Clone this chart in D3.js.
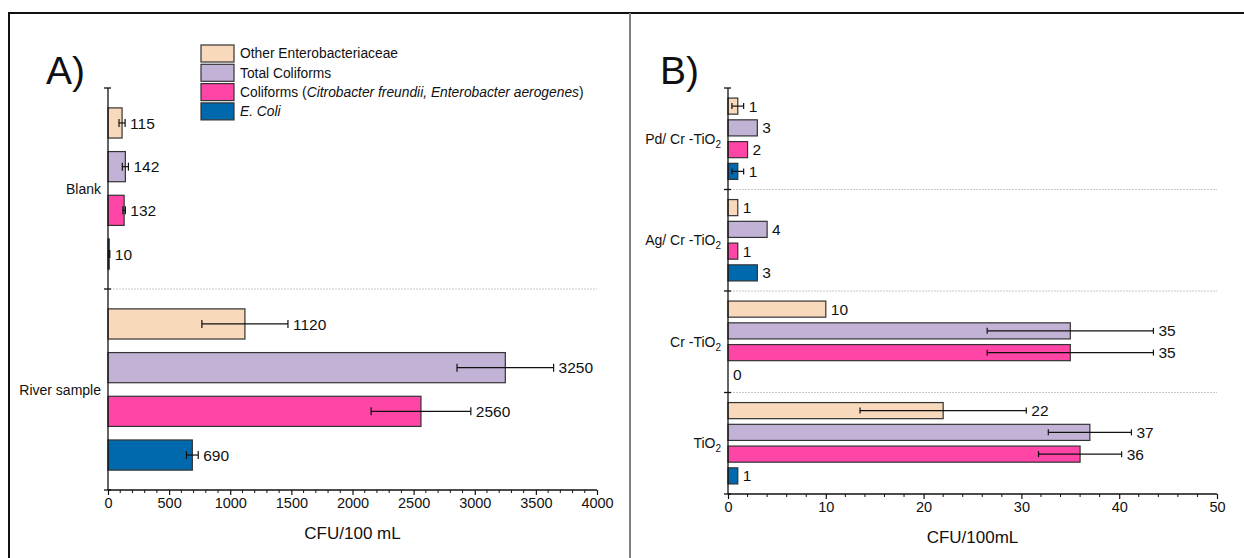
<!DOCTYPE html>
<html lang="en">
<head>
<meta charset="UTF-8">
<title>CFU bar charts</title>
<style>
    body { margin: 0; background: #fff; font-family: "Liberation Sans", Arial, sans-serif; }
    svg text { font-family: "Liberation Sans", Arial, sans-serif; fill: #111; }
    .axis path, .axis line { stroke: #111; }
</style>
</head>
<body>
<svg id="chart" width="1244" height="558"></svg>
<script src="https://d3js.org/d3.v7.min.js"></script>
<script>
// series (top to bottom inside each group)
const seriesKeys = ["other", "total", "coliforms", "ecoli"];
const seriesColors = ["#f9d9bc", "#c2b3d6", "#ff45a6", "#0068ad"];

// panel A
const groupsA = ["Blank", "River sample"];
const blankValues = [115, 142, 132, 10];
const blankErrors = [25, 25, 10, 5];
const riverValues = [1120, 3250, 2560, 690];
const riverErrors = [352, 395, 408, 48];
const ticksA = [0, 500, 1000, 1500, 2000, 2500, 3000, 3500, 4000];

// panel B
const groupsB = ["Pd/ Cr -TiO", "Ag/ Cr -TiO", "Cr -TiO", "TiO"];
const pdValues = [1, 3, 2, 1];
const pdErrors = [0.6, 0, 0, 0.6];
const agValues = [1, 4, 1, 3];
const agErrors = [0, 0, 0, 0];
const crValues = [10, 35, 35, 0];
const crErrors = [0, 8.5, 8.5, 0];
const tioValues = [22, 37, 36, 1];
const tioErrors = [8.5, 4.25, 4.25, 0];
const ticksB = [0, 10, 20, 30, 40, 50];

const svg = d3.select('#chart');

// outer frame
svg.append('line').attr('x1', 8).attr('x2', 1244).attr('y1', 13).attr('y2', 13)
    .attr('stroke', '#111').attr('stroke-width', 2);
svg.append('line').attr('x1', 9).attr('x2', 9).attr('y1', 13).attr('y2', 558)
    .attr('stroke', '#111').attr('stroke-width', 2);
svg.append('line').attr('x1', 630).attr('x2', 630).attr('y1', 13).attr('y2', 558)
    .attr('stroke', '#808080').attr('stroke-width', 2);

function drawPanel(opt) {
    const g = svg.append('g');
    const x = d3.scaleLinear().domain(opt.domain).range([opt.left, opt.right]);
    const yGroup = d3.scaleBand().domain(opt.groups).range([opt.top, opt.bottom]);
    const yInner = d3.scaleBand().domain(seriesKeys).range([0, yGroup.bandwidth()])
        .paddingInner(opt.padInner).paddingOuter(opt.padOuter);

    // dotted separators between groups
    opt.groups.slice(1).forEach(gr => {
        g.append('line')
            .attr('x1', opt.left + 2).attr('x2', opt.right)
            .attr('y1', yGroup(gr)).attr('y2', yGroup(gr))
            .attr('stroke', '#c8c8c8').attr('stroke-dasharray', '2,1');
    });

    // bars
    opt.groups.forEach((gr, gi) => {
        const vals = opt.values[gi];
        const errs = opt.errors[gi];
        const gy = yGroup(gr);
        seriesKeys.forEach((k, i) => {
            const v = vals[i], e = errs[i];
            const by = gy + yInner(k);
            const bh = yInner.bandwidth();
            const cy = by + bh / 2;
            if (v > 0) {
                g.append('rect')
                    .attr('x', x(0)).attr('y', by)
                    .attr('width', x(v) - x(0)).attr('height', bh)
                    .attr('fill', seriesColors[i])
                    .attr('stroke', '#333').attr('stroke-width', 1.2);
            }
            if (e > 0) {
                g.append('line').attr('x1', x(v - e)).attr('x2', x(v + e))
                    .attr('y1', cy).attr('y2', cy).attr('stroke', '#111').attr('stroke-width', 1.2);
                [v - e, v + e].forEach(c => {
                    g.append('line').attr('x1', x(c)).attr('x2', x(c))
                        .attr('y1', cy - opt.cap).attr('y2', cy + opt.cap)
                        .attr('stroke', '#111').attr('stroke-width', 1.2);
                });
            }
            g.append('text')
                .attr('x', x(v + e) + 5)
                .attr('y', cy)
                .attr('dy', '0.36em')
                .attr('font-size', opt.valueSize)
                .text(v);
        });
    });

    // y axis with ticks at group boundaries
    g.append('line').attr('x1', opt.left).attr('x2', opt.left)
        .attr('y1', opt.top).attr('y2', opt.bottom).attr('stroke', '#111').attr('stroke-width', 1.3);
    const bounds = opt.groups.map(gr => yGroup(gr)).concat([opt.bottom]);
    bounds.forEach(b => {
        g.append('line').attr('x1', opt.left - 4).attr('x2', opt.left + 3)
            .attr('y1', b).attr('y2', b).attr('stroke', '#111').attr('stroke-width', 1.3);
    });

    // group labels
    opt.groups.forEach(gr => {
        const t = g.append('text')
            .attr('x', opt.left - 7)
            .attr('y', yGroup(gr) + yGroup.bandwidth() / 2)
            .attr('dy', '0.36em')
            .attr('text-anchor', 'end')
            .attr('font-size', 14)
            .text(gr);
        if (opt.subscript) {
            t.append('tspan').attr('font-size', 10).attr('dy', 4).text('2');
        }
    });

    // x axis
    const xAxis = d3.axisBottom(x).tickValues(opt.ticks).tickSize(5).tickPadding(3)
        .tickFormat(d3.format('d'));
    const ax = g.append('g').attr('class', 'axis')
        .attr('transform', `translate(0, ${opt.bottom})`)
        .call(xAxis);
    ax.select('.domain').attr('stroke-width', 1.3).attr('d', `M${opt.left},0H${opt.right}`);
    ax.selectAll('.tick line').attr('stroke-width', 1.2);
    ax.selectAll('.tick text').attr('font-size', 14.5).attr('fill', '#111');
    const minor = d3.range(opt.domain[0], opt.domain[1] + opt.minorStep / 2, opt.minorStep)
        .filter(d => !opt.ticks.includes(d));
    ax.selectAll('.minor').data(minor).enter().append('line')
        .attr('x1', d => x(d)).attr('x2', d => x(d))
        .attr('y1', 0).attr('y2', 3).attr('stroke', '#111');

    g.append('text')
        .attr('x', (opt.left + opt.right) / 2)
        .attr('y', opt.bottom + 49)
        .attr('text-anchor', 'middle')
        .attr('font-size', 17)
        .text(opt.title);

    g.append('text')
        .attr('x', opt.letterX).attr('y', 84)
        .attr('font-size', 39)
        .text(opt.letter);
}

drawPanel({
    groups: groupsA,
    values: [blankValues, riverValues],
    errors: [blankErrors, riverErrors],
    domain: [0, 4000], ticks: ticksA, minorStep: 100,
    left: 108, right: 597, top: 88, bottom: 490,
    padInner: 0.31, padOuter: 0.455, cap: 4, valueSize: 15.5,
    title: 'CFU/100 mL', letter: 'A)', letterX: 46, subscript: false
});

drawPanel({
    groups: groupsB,
    values: [pdValues, agValues, crValues, tioValues],
    errors: [pdErrors, agErrors, crErrors, tioErrors],
    domain: [0, 50], ticks: ticksB, minorStep: 2,
    left: 728, right: 1217, top: 88, bottom: 494,
    padInner: 0.26, padOuter: 0.463, cap: 3, valueSize: 15.5,
    title: 'CFU/100mL', letter: 'B)', letterX: 660, subscript: true
});

// legend for panel A
const legendLabels = [
    [{ t: 'Other Enterobacteriaceae' }],
    [{ t: 'Total Coliforms' }],
    [{ t: 'Coliforms (' }, { t: 'Citrobacter freundii, Enterobacter aerogenes', i: true }, { t: ')' }],
    [{ t: 'E. Coli', i: true }]
];
const legend = svg.append('g').attr('transform', 'translate(201, 45)');
legendLabels.forEach((parts, i) => {
    const row = legend.append('g').attr('transform', `translate(0, ${i * 19.3})`);
    row.append('rect').attr('width', 33).attr('height', 17)
        .attr('fill', seriesColors[i]).attr('stroke', '#333').attr('stroke-width', 1.2);
    const t = row.append('text').attr('x', 39).attr('y', 8.5).attr('dy', '0.36em').attr('font-size', 13.8);
    parts.forEach(p => {
        t.append('tspan').attr('font-style', p.i ? 'italic' : 'normal').text(p.t);
    });
});
</script>
</body>
</html>
